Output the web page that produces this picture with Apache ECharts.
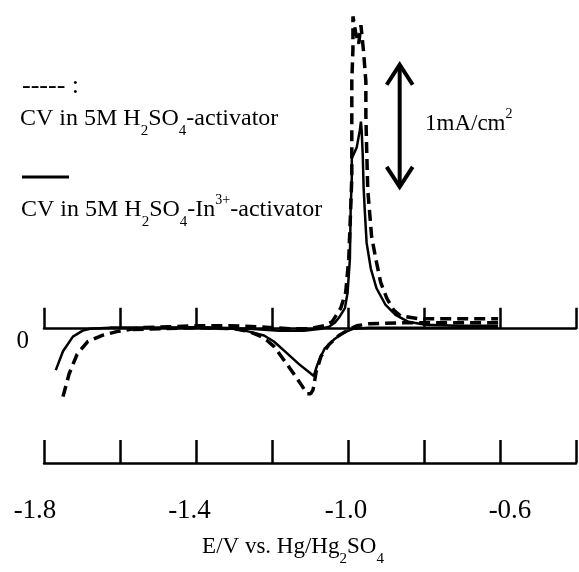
<!DOCTYPE html>
<html lang="en">
<head>
<meta charset="utf-8">
<title>CV activator</title>
<script src="https://cdn.jsdelivr.net/npm/echarts/dist/echarts.min.js"></script>
<style>
  html, body { margin: 0; padding: 0; background: #fff; }
  #chart { width: 579px; height: 572px; }
</style>
</head>
<body>
<div id="chart"></div>
<script>
// potential range (V vs. Hg/Hg2SO4) and current range (mA/cm2)
var xMin = -1.8, xMax = -0.4, xStep = 0.2;
var yMin = -1.1, yMax = 2.6;

// CV in 5M H2SO4-activator (dashed), [E, i]
// negative-going sweep, from -0.6 V until it joins the return sweep
var activatorCathodic = [
  [-0.605, 0.048], [-0.736, 0.048], [-0.867, 0.048], [-0.945, 0.040], [-0.977, 0.024],
  [-0.998, -0.008], [-1.024, -0.056], [-1.050, -0.129], [-1.071, -0.226], [-1.084, -0.355],
  [-1.090, -0.468], [-1.092, -0.500], [-1.098, -0.532], [-1.108, -0.532], [-1.121, -0.468],
  [-1.137, -0.395], [-1.155, -0.315], [-1.174, -0.234], [-1.195, -0.145], [-1.213, -0.097],
  [-1.234, -0.056], [-1.260, -0.024], [-1.299, 0], [-1.391, 0.008], [-1.496, 0],
  [-1.575, -0.008]
];
// positive-going sweep, from the lower turning point
var activatorAnodic = [
  [-1.750, -0.556], [-1.734, -0.371], [-1.713, -0.210], [-1.685, -0.105], [-1.648, -0.056],
  [-1.609, -0.024], [-1.548, 0.008], [-1.470, 0.016], [-1.391, 0.024], [-1.312, 0.024],
  [-1.234, 0.016], [-1.155, 0], [-1.103, 0], [-1.063, 0.024], [-1.042, 0.056],
  [-1.019, 0.169], [-1.006, 0.298], [-0.998, 0.573], [-0.993, 0.976], [-0.990, 1.242],
  [-0.990, 1.621], [-0.990, 2.024], [-0.987, 2.290], [-0.987, 2.556], [-0.980, 2.427],
  [-0.972, 2.331], [-0.966, 2.484], [-0.964, 2.492], [-0.959, 2.266], [-0.953, 2.024],
  [-0.953, 1.750], [-0.951, 1.484], [-0.948, 1.137], [-0.945, 1.024], [-0.938, 0.758],
  [-0.927, 0.573], [-0.914, 0.379], [-0.898, 0.250], [-0.880, 0.153], [-0.862, 0.105],
  [-0.814, 0.081], [-0.710, 0.081], [-0.605, 0.081]
];

// CV in 5M H2SO4-In3+-activator (solid), [E, i]
var indiumCathodic = [
  [-0.605, 0.008], [-0.736, 0.008], [-0.867, 0.008], [-0.945, 0.008], [-0.985, 0],
  [-1.011, -0.032], [-1.037, -0.089], [-1.061, -0.161], [-1.074, -0.242], [-1.082, -0.306],
  [-1.090, -0.387], [-1.103, -0.355], [-1.129, -0.290], [-1.163, -0.194], [-1.195, -0.105],
  [-1.221, -0.056], [-1.260, -0.024], [-1.299, 0], [-1.391, 0.008], [-1.522, 0.008],
  [-1.627, 0.008]
];
var indiumAnodic = [
  [-1.769, -0.339], [-1.750, -0.185], [-1.724, -0.065], [-1.698, -0.016], [-1.679, 0],
  [-1.627, 0.008], [-1.522, 0.008], [-1.391, 0.008], [-1.260, 0], [-1.181, -0.016],
  [-1.116, -0.016], [-1.071, 0], [-1.050, 0.016], [-1.035, 0.048], [-1.024, 0.089],
  [-1.008, 0.169], [-1.001, 0.298], [-0.995, 0.573], [-0.993, 0.976], [-0.990, 1.242],
  [-0.990, 1.403], [-0.985, 1.427], [-0.977, 1.484], [-0.969, 1.621], [-0.966, 1.694],
  [-0.964, 1.621], [-0.961, 1.403], [-0.959, 1.161], [-0.956, 0.976], [-0.951, 0.702],
  [-0.940, 0.492], [-0.925, 0.331], [-0.901, 0.194], [-0.875, 0.113], [-0.841, 0.056],
  [-0.796, 0.032], [-0.710, 0.024], [-0.605, 0.024]
];

// 1 mA/cm2 scale bar: [E, i low, i high]
var scaleBar = [[-0.864, 1.16, 2.16]];

var serif = "'Liberation Serif', 'Times New Roman', serif";

function richText(size, subSize, colorKey) {
  var t = { fontSize: size, fontFamily: serif, lineHeight: 24, padding: [6, 0, 0, 0], verticalAlign: 'top' };
  var sub = { fontSize: subSize, fontFamily: serif, lineHeight: 16, padding: [23, 0, 0, 0], verticalAlign: 'top' };
  var sup = { fontSize: subSize - 1, fontFamily: serif, lineHeight: 14, padding: [1, 0, 0, 0], verticalAlign: 'top' };
  t[colorKey] = sub[colorKey] = sup[colorKey] = '#000';
  return { t: t, sub: sub, sup: sup };
}

// tick labels sit a little off their ticks in the original
function tickRich(padding) {
  return { color: '#000', fontSize: 27, fontFamily: serif, padding: padding };
}

var dashed = { color: '#000', width: 3.5, type: [11, 6] };
var solid = { color: '#000', width: 2.5 };

var chart = echarts.init(document.getElementById('chart'));

chart.setOption({
  animation: false,
  backgroundColor: '#fff',
  grid: { left: 44, right: 1, top: 11, bottom: 102 },
  xAxis: [
    {
      // zero current line with its ticks
      type: 'value', min: xMin, max: xMax, interval: xStep, position: 'bottom',
      axisLine: { onZero: true, lineStyle: { color: '#000', width: 2.5 } },
      axisTick: { inside: true, length: 21, lineStyle: { color: '#000', width: 2.5 } },
      axisLabel: { show: false },
      splitLine: { show: false }
    },
    {
      type: 'value', min: xMin, max: xMax, interval: xStep, position: 'bottom',
      axisLine: { onZero: false, lineStyle: { color: '#000', width: 2.5 } },
      axisTick: { inside: true, length: 23, lineStyle: { color: '#000', width: 2.5 } },
      axisLabel: {
        color: '#000', fontSize: 27, fontFamily: serif, margin: 34,
        formatter: function (v, idx) {
          return idx % 2 === 0 ? '{p' + idx + '|' + v.toFixed(1) + '}' : '';
        },
        rich: {
          p0: tickRich([0, 18, 0, 0]),
          p2: tickRich([0, 13, 0, 0]),
          p4: tickRich([0, 4, 0, 0]),
          p6: tickRich([0, 0, 0, 20])
        }
      },
      splitLine: { show: false },
      name: '{t|E/V vs. Hg/Hg}{sub|2}{t|SO}{sub|4}',
      nameLocation: 'middle',
      nameGap: 64,
      nameTextStyle: { padding: [0, 34, 0, 0], rich: richText(23, 15, 'color') }
    }
  ],
  yAxis: {
    type: 'value', min: yMin, max: yMax, interval: 1.1,
    axisLine: { show: false, onZero: false },
    axisTick: { show: false },
    splitLine: { show: false },
    axisLabel: {
      color: '#000', fontSize: 25, fontFamily: serif, margin: 15, verticalAlign: 'top',
      formatter: function (v) { return Math.abs(v) < 1e-6 ? '0' : ''; }
    }
  },
  graphic: [
    {
      type: 'text', left: 22, top: 73,
      style: { text: '----- :', font: '26px ' + serif, fill: '#000' }
    },
    {
      type: 'text', left: 20, top: 101,
      style: { text: '{t|CV in 5M H}{sub|2}{t|SO}{sub|4}{t|-activator}', rich: richText(24, 15, 'fill') }
    },
    {
      type: 'line', shape: { x1: 22, y1: 177, x2: 69, y2: 177 },
      style: { stroke: '#000', lineWidth: 3 }
    },
    {
      type: 'text', left: 21, top: 192,
      style: { text: '{t|CV in 5M H}{sub|2}{t|SO}{sub|4}{t|-In}{sup|3+}{t|-activator}', rich: richText(24, 15, 'fill') }
    },
    {
      type: 'text', left: 425, top: 106,
      style: { text: '{t|1mA/cm}{sup|2}', rich: richText(23, 15, 'fill') }
    }
  ],
  series: [
    { name: 'CV in 5M H2SO4-activator', type: 'line', data: activatorCathodic, showSymbol: false, silent: true, lineStyle: dashed },
    { name: 'CV in 5M H2SO4-activator', type: 'line', data: activatorAnodic, showSymbol: false, silent: true, lineStyle: dashed },
    { name: 'CV in 5M H2SO4-In3+-activator', type: 'line', data: indiumCathodic, showSymbol: false, silent: true, lineStyle: solid },
    { name: 'CV in 5M H2SO4-In3+-activator', type: 'line', data: indiumAnodic, showSymbol: false, silent: true, lineStyle: solid },
    {
      type: 'custom', data: scaleBar, silent: true,
      renderItem: function (params, api) {
        var top = api.coord([api.value(0), api.value(2)]);
        var bot = api.coord([api.value(0), api.value(1)]);
        var w = 13, h = 20;
        var st = { stroke: '#000', lineWidth: 4, fill: null };
        return {
          type: 'group',
          children: [
            { type: 'line', shape: { x1: top[0], y1: top[1] + 1, x2: bot[0], y2: bot[1] - 1 }, style: st },
            { type: 'polyline', shape: { points: [[top[0] - w, top[1] + h], [top[0], top[1]], [top[0] + w, top[1] + h]] }, style: st },
            { type: 'polyline', shape: { points: [[bot[0] - w, bot[1] - h], [bot[0], bot[1]], [bot[0] + w, bot[1] - h]] }, style: st }
          ]
        };
      }
    }
  ]
});
</script>
</body>
</html>
